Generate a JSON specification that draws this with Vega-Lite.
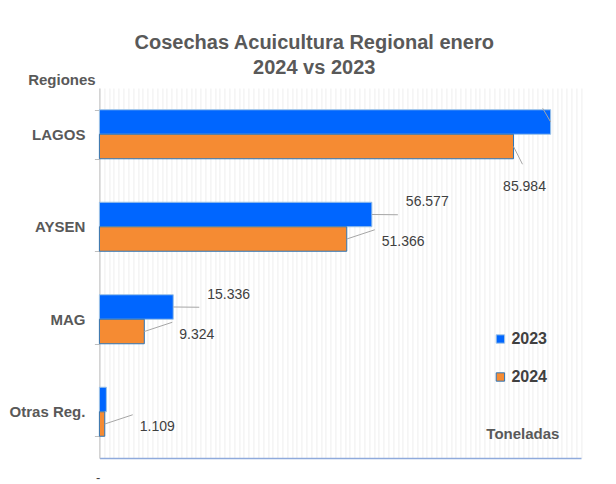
{
  "$schema": "https://vega.github.io/schema/vega-lite/v6.json",
  "width": 481.6,
  "height": 370,
  "autosize": {"type": "none"},
  "padding": {"left": 99.4, "top": 88, "right": 35, "bottom": 26},
  "background": "white",
  "config": {
    "font": "Liberation Sans",
    "view": {"stroke": null},
    "locale": {"number": {"decimal": ",", "thousands": ".", "grouping": [3], "currency": ["$", ""]}}
  },
  "title": {
    "text": ["Cosechas Acuicultura Regional enero", "2024 vs 2023"],
    "font": "Liberation Sans",
    "fontSize": 20,
    "fontWeight": "bold",
    "color": "#595959",
    "lineHeight": 25,
    "anchor": "middle",
    "frame": "group",
    "dx": -26,
    "offset": -6
  },
  "data": {
    "values": [
      {"region": "LAGOS", "year": "2023", "value": 93700},
      {"region": "LAGOS", "year": "2024", "value": 85984},
      {"region": "AYSEN", "year": "2023", "value": 56577},
      {"region": "AYSEN", "year": "2024", "value": 51366},
      {"region": "MAG", "year": "2023", "value": 15336},
      {"region": "MAG", "year": "2024", "value": 9324},
      {"region": "Otras Reg.", "year": "2023", "value": 1450},
      {"region": "Otras Reg.", "year": "2024", "value": 1109}
    ]
  },
  "encoding": {
    "y": {
      "field": "region",
      "type": "nominal",
      "sort": ["LAGOS", "AYSEN", "MAG", "Otras Reg."],
      "scale": {"paddingInner": 0.47, "paddingOuter": 0.235},
      "axis": {
        "title": "Regiones",
        "titleAngle": 0,
        "titleX": -38,
        "titleY": -9,
        "titleAlign": "center",
        "titleBaseline": "middle",
        "titleFont": "Liberation Sans",
        "titleFontSize": 15,
        "titleFontWeight": "bold",
        "titleColor": "#595959",
        "labelFont": "Liberation Sans",
        "labelFontSize": 15,
        "labelFontWeight": "bold",
        "labelColor": "#595959",
        "labelPadding": 9.5,
        "tickBand": "extent",
        "tickSize": 5,
        "tickColor": "#bfbfbf",
        "domainColor": "#bfbfbf",
        "grid": false
      }
    },
    "yOffset": {"field": "year", "type": "nominal", "sort": ["2023", "2024"]}
  },
  "layer": [
    {
      "mark": {"type": "bar", "strokeWidth": 1},
      "encoding": {
        "x": {
          "field": "value",
          "type": "quantitative",
          "scale": {"domain": [0, 100000], "nice": false},
          "axis": {
            "title": "Toneladas",
            "titleX": 423,
            "titleY": -25,
            "titleAlign": "center",
            "titleBaseline": "middle",
            "titleFont": "Liberation Sans",
            "titleFontSize": 15,
            "titleFontWeight": "bold",
            "titleColor": "#595959",
            "tickCount": 100,
            "ticks": false,
            "grid": true,
            "gridColor": "#ebebeb",
            "gridWidth": 0.8,
            "labelExpr": "datum.value == 0 ? '-' : ''",
            "labelOverlap": false,
            "labelColor": "#404040",
            "labelFontSize": 13,
            "labelPadding": 13,
            "labelOffset": -4,
            "domainColor": "#8faadc",
            "domainWidth": 1.5
          }
        },
        "fill": {
          "field": "year",
          "type": "nominal",
          "scale": {"domain": ["2023", "2024"], "range": ["#0066ff", "#f58b33"]},
          "legend": {
            "title": null,
            "orient": "none",
            "legendX": 393,
            "legendY": 243,
            "padding": 0,
            "symbolType": "square",
            "symbolSize": 70,
            "symbolStrokeWidth": 1,
            "labelFont": "Liberation Sans",
            "labelFontSize": 16,
            "labelFontWeight": "bold",
            "labelColor": "#404040",
            "labelOffset": 3,
            "rowPadding": 22
          }
        },
        "stroke": {
          "field": "year",
          "type": "nominal",
          "scale": {"domain": ["2023", "2024"], "range": ["#9dc3e6", "#2e75b6"]},
          "legend": {
            "title": null,
            "orient": "none",
            "legendX": 393,
            "legendY": 243,
            "padding": 0,
            "symbolType": "square",
            "symbolSize": 70,
            "symbolStrokeWidth": 1,
            "labelFont": "Liberation Sans",
            "labelFontSize": 16,
            "labelFontWeight": "bold",
            "labelColor": "#404040",
            "labelOffset": 3,
            "rowPadding": 22
          }
        }
      }
    },
    {
      "transform": [{"filter": "datum.year == '2023' && (datum.region == 'AYSEN' || datum.region == 'MAG')"}],
      "mark": {"type": "rule", "color": "#a6a6a6", "strokeWidth": 1, "x2Offset": 26, "y2Offset": -12},
      "encoding": {
        "x": {"field": "value", "type": "quantitative"},
        "x2": {"field": "value"},
        "y2": {"field": "region"}
      }
    },
    {
      "transform": [{"filter": "datum.year == '2023' && (datum.region == 'AYSEN' || datum.region == 'MAG')"}],
      "mark": {"type": "text", "align": "left", "baseline": "middle", "dx": 34, "dy": -12, "fontSize": 14, "color": "#404040"},
      "encoding": {
        "x": {"field": "value", "type": "quantitative"},
        "text": {"field": "value", "type": "quantitative", "format": ",.0f"}
      }
    },
    {
      "transform": [{"filter": "datum.year == '2024' && datum.region != 'LAGOS'"}],
      "mark": {"type": "rule", "color": "#a6a6a6", "strokeWidth": 1, "x2Offset": 28, "y2Offset": 3},
      "encoding": {
        "x": {"field": "value", "type": "quantitative"},
        "x2": {"field": "value"},
        "y2": {"field": "region"}
      }
    },
    {
      "transform": [{"filter": "datum.year == '2024' && datum.region != 'LAGOS'"}],
      "mark": {"type": "text", "align": "left", "baseline": "middle", "dx": 35, "dy": 3, "fontSize": 14, "color": "#404040"},
      "encoding": {
        "x": {"field": "value", "type": "quantitative"},
        "text": {"field": "value", "type": "quantitative", "format": ",.0f"}
      }
    },
    {
      "transform": [{"filter": "datum.year == '2024' && datum.region == 'LAGOS'"}],
      "mark": {"type": "rule", "color": "#a6a6a6", "strokeWidth": 1, "x2Offset": 9, "y2Offset": 30},
      "encoding": {
        "x": {"field": "value", "type": "quantitative"},
        "x2": {"field": "value"},
        "y2": {"field": "region"}
      }
    },
    {
      "transform": [{"filter": "datum.year == '2024' && datum.region == 'LAGOS'"}],
      "mark": {"type": "text", "align": "center", "baseline": "middle", "dx": 11, "dy": 40, "fontSize": 14, "color": "#404040"},
      "encoding": {
        "x": {"field": "value", "type": "quantitative"},
        "text": {"field": "value", "type": "quantitative", "format": ",.0f"}
      }
    },
    {
      "transform": [{"filter": "datum.year == '2023' && datum.region == 'LAGOS'"}],
      "mark": {"type": "rule", "color": "#a6a6a6", "strokeWidth": 1, "x2Offset": -8, "y2Offset": -26},
      "encoding": {
        "x": {"field": "value", "type": "quantitative"},
        "x2": {"field": "value"},
        "y2": {"field": "region"}
      }
    }
  ]
}
